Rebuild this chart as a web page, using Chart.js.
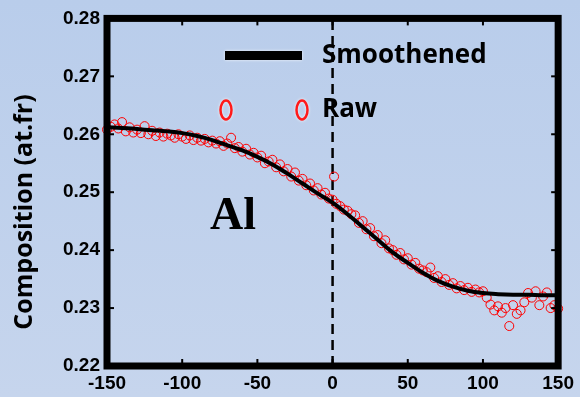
<!DOCTYPE html>
<html><head><meta charset="utf-8">
<script src="https://cdn.jsdelivr.net/npm/chart.js@4/dist/chart.umd.min.js"></script>
<style>html,body{margin:0;padding:0;background:#c0d1ec;}canvas{display:block;}</style>
</head><body>
<canvas id="c" width="580" height="397"></canvas>
<script>
// ---- data ----
const smoothX = [-150,-140,-130,-120,-110,-100,-90,-80,-70,-60,-50,-40,-30,-20,-10,0,10,20,30,40,50,60,70,80,90,100,110,120,130,140,150];
const smoothY = [0.2612,0.2611,0.2609,0.2607,0.2605,0.2602,0.2597,0.2590,0.2581,0.2572,0.2561,0.2548,0.2532,0.2515,0.2498,0.2482,0.2462,0.2440,0.2418,0.2396,0.2378,0.2361,0.2347,0.2337,0.2330,0.2326,0.2324,0.2323,0.2323,0.2322,0.2322];
const rawX = [-150,-147.5,-145,-142.5,-140,-137.5,-135,-132.5,-130,-127.5,-125,-122.5,-120,-117.5,-115,-112.5,-110,-107.5,-105,-102.5,-100,-97.5,-95,-92.5,-90,-87.5,-85,-82.5,-80,-77.5,-75,-72.5,-70,-67.5,-65,-62.5,-60,-57.5,-55,-52.5,-50,-47.5,-45,-42.5,-40,-37.5,-35,-32.5,-30,-27.5,-25,-22.5,-20,-17.5,-15,-12.5,-10,-7.5,-5,-2.5,0,1,2.5,5,7.5,10,12.5,15,17.5,20,22.5,25,27.5,30,32.5,35,37.5,40,42.5,45,47.5,50,52.5,55,57.5,60,62.5,65,67.5,70,72.5,75,77.5,80,82.5,85,87.5,90,92.5,95,97.5,100,102.5,105,107.5,110,112.5,115,117.5,120,122.5,125,127.5,130,132.5,135,137.5,140,142.5,145,147.5,150];
const rawY = [0.2608,0.2613,0.2617,0.2610,0.2621,0.2605,0.2612,0.2603,0.2608,0.2602,0.2614,0.2600,0.2606,0.2597,0.2603,0.2596,0.2601,0.2598,0.2594,0.2600,0.2596,0.2592,0.2598,0.2590,0.2594,0.2589,0.2592,0.2586,0.2589,0.2584,0.2588,0.2580,0.2584,0.2594,0.2576,0.2578,0.2570,0.2575,0.2565,0.2568,0.2560,0.2563,0.2550,0.2553,0.2556,0.2543,0.2548,0.2536,0.2540,0.2527,0.2534,0.2520,0.2523,0.2512,0.2515,0.2503,0.2507,0.2496,0.2499,0.2489,0.2487,0.2527,0.2480,0.2476,0.2470,0.2468,0.2462,0.2460,0.2447,0.2450,0.2436,0.2438,0.2424,0.2426,0.2412,0.2417,0.2403,0.2400,0.2392,0.2395,0.2384,0.2386,0.2375,0.2378,0.2368,0.2365,0.2362,0.2370,0.2352,0.2355,0.2345,0.2350,0.2340,0.2343,0.2334,0.2338,0.2331,0.2335,0.2328,0.2332,0.2327,0.2329,0.2318,0.2306,0.2296,0.2303,0.2292,0.2300,0.2269,0.2305,0.2290,0.2296,0.2310,0.2326,0.2318,0.2329,0.2305,0.2320,0.2327,0.2300,0.2305,0.2299];
const zeroX = [0, 0];
const zeroY = [0.22, 0.28];
const xTicks = [-150,-100,-50,0,50,100,150];
const yTicks = [0.22,0.23,0.24,0.25,0.26,0.27,0.28];
const legendLabels = ['Smoothened', 'Raw'];
const panelLabel = 'Al';
const yTitle = 'Composition (at.fr)';

const toPts = (xs, ys) => xs.map((x, i) => ({x: x, y: ys[i]}));

const bgPlugin = {
  id: 'bg',
  beforeDraw(chart) {
    const c = chart.ctx;
    const g = c.createLinearGradient(0, 0, 0, chart.height);
    g.addColorStop(0, '#b9cdeb');
    g.addColorStop(1, '#c6d5ed');
    c.save(); c.fillStyle = g; c.fillRect(0, 0, chart.width, chart.height); c.restore();
  }
};
const framePlugin = {
  id: 'frame',
  afterDatasetsDraw(chart) {
    const a = chart.chartArea, c = chart.ctx;
    c.save();
    c.strokeStyle = '#000'; c.lineWidth = 7;
    c.strokeRect(a.left, a.top, a.right - a.left, a.bottom - a.top);
    c.lineWidth = 2;
    const xs = chart.scales.x, ys = chart.scales.y;
    xTicks.forEach(t => { const p = xs.getPixelForValue(t);
      c.beginPath(); c.moveTo(p, a.bottom); c.lineTo(p, a.bottom - 7); c.stroke();
      c.beginPath(); c.moveTo(p, a.top); c.lineTo(p, a.top + 7); c.stroke(); });
    yTicks.forEach(t => { const p = ys.getPixelForValue(t);
      c.beginPath(); c.moveTo(a.left, p); c.lineTo(a.left + 7, p); c.stroke();
      c.beginPath(); c.moveTo(a.right, p); c.lineTo(a.right - 7, p); c.stroke(); });
    c.restore();
  },
  afterDraw(chart) {
    const c = chart.ctx;
    c.save();
    c.shadowColor = 'rgba(255,255,255,0.9)'; c.shadowBlur = 3;
    c.fillStyle = '#000';
    c.fillRect(225, 51, 77, 9);
    c.strokeStyle = '#ff1a1a'; c.lineWidth = 2.5;
    [226, 302].forEach(cx => { c.beginPath(); c.ellipse(cx, 110, 5.5, 9.5, 0, 0, Math.PI * 2); c.stroke(); });
    c.shadowBlur = 0;
    c.fillStyle = '#000';
    c.font = 'bold 26px "Open Sans", sans-serif';
    c.textBaseline = 'middle'; c.textAlign = 'left';
    c.fillText(legendLabels[0], 322, 56);
    c.fillText(legendLabels[1], 322, 110);
    c.font = 'bold 46px "Liberation Serif", "Times New Roman", serif';
    c.fillText(panelLabel, 210, 217);
    // y axis title
    c.translate(25, 212);
    c.rotate(-Math.PI / 2);
    c.textAlign = 'center';
    c.font = 'bold 25px "Open Sans", sans-serif';
    c.fillText(yTitle, 0, 0);
    c.restore();
  }
};

new Chart(document.getElementById('c'), {
  type: 'scatter',
  data: {
    datasets: [
      { label: 'Smoothened', data: toPts(smoothX, smoothY), showLine: true, borderColor: '#000', borderWidth: 4, pointRadius: 0, tension: 0.4, order: 1 },
      { label: 'Raw', data: toPts(rawX, rawY), showLine: false, borderColor: '#ff0000', backgroundColor: 'rgba(0,0,0,0)', pointRadius: 4.5, pointBorderWidth: 1, order: 2, clip: 6 },
      { label: 'zero', data: toPts(zeroX, zeroY), showLine: true, borderColor: '#000', borderWidth: 2.5, borderDash: [10, 6], pointRadius: 0, order: 3 }
    ]
  },
  options: {
    responsive: false, animation: false, devicePixelRatio: 1,
    layout: { padding: { top: 15, right: 21, left: 0, bottom: 0 } },
    plugins: { legend: { display: false }, tooltip: { enabled: false } },
    scales: {
      x: {
        type: 'linear', min: -150, max: 150,
        afterBuildTicks: s => { s.ticks = xTicks.map(v => ({value: v})); },
        afterFit: s => { s.height = 31; },
        grid: { display: false, drawTicks: false }, border: { display: false },
        ticks: { color: '#000', padding: 6, maxRotation: 0, font: { family: '"Liberation Sans", Arial, sans-serif', size: 19, weight: 'bold' }, callback: v => String(v) }
      },
      y: {
        type: 'linear', min: 0.22, max: 0.28,
        afterBuildTicks: s => { s.ticks = yTicks.map(v => ({value: v})); },
        afterFit: s => { s.width = 107; },
        grid: { display: false, drawTicks: false }, border: { display: false },
        ticks: { color: '#000', padding: 7, font: { family: '"Liberation Sans", Arial, sans-serif', size: 19, weight: 'bold' }, callback: v => Number(v).toFixed(2) },
        title: { display: false }
      }
    }
  },
  plugins: [bgPlugin, framePlugin]
});
</script>
</body></html>
